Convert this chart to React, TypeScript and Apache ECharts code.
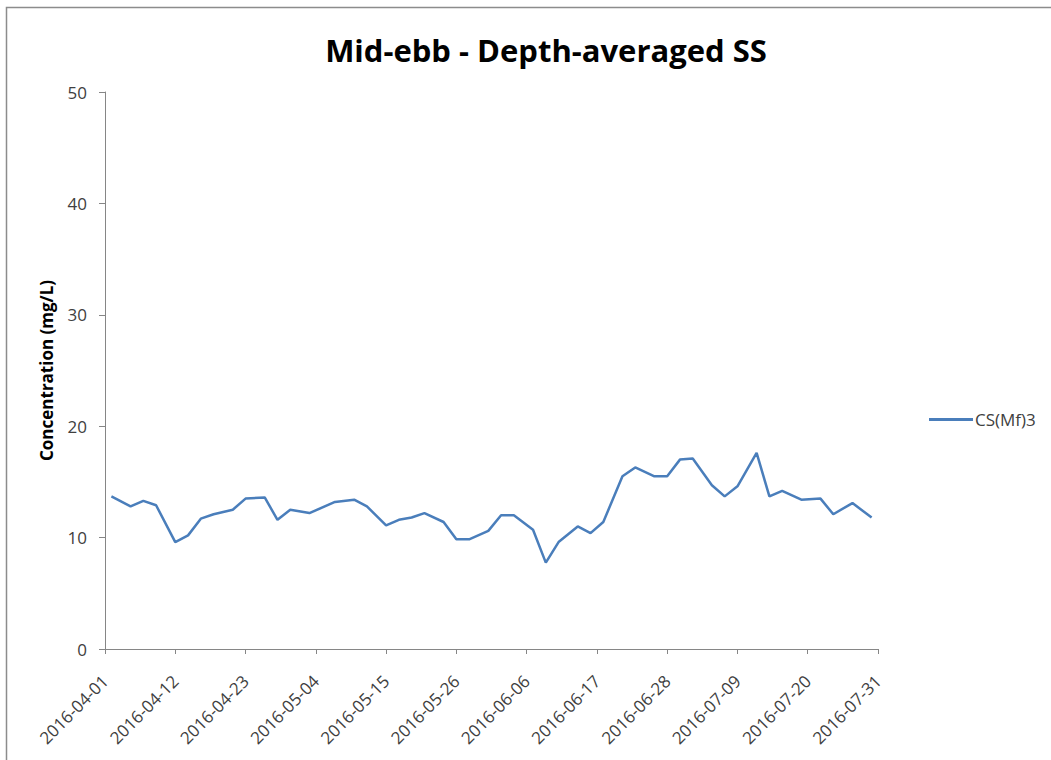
import React, { useEffect, useRef } from "react";
import * as echarts from "echarts";

const title = "Mid-ebb - Depth-averaged SS";
const seriesName = "CS(Mf)3";
const yAxisName = "Concentration (mg/L)";
const startDate = "2016-04-01";
const endDate = "2016-07-31";
const tickDays = 11;

const dates = [
  "2016-04-02", "2016-04-05", "2016-04-07", "2016-04-09", "2016-04-12", "2016-04-14",
  "2016-04-16", "2016-04-18", "2016-04-21", "2016-04-23", "2016-04-26", "2016-04-28",
  "2016-04-30", "2016-05-03", "2016-05-07", "2016-05-10", "2016-05-12", "2016-05-15",
  "2016-05-17", "2016-05-19", "2016-05-21", "2016-05-24", "2016-05-26", "2016-05-28",
  "2016-05-31", "2016-06-02", "2016-06-04", "2016-06-07", "2016-06-09", "2016-06-11",
  "2016-06-14", "2016-06-16", "2016-06-18", "2016-06-21", "2016-06-23", "2016-06-26",
  "2016-06-28", "2016-06-30", "2016-07-02", "2016-07-05", "2016-07-07", "2016-07-09",
  "2016-07-12", "2016-07-14", "2016-07-16", "2016-07-19", "2016-07-22", "2016-07-24",
  "2016-07-27", "2016-07-30",
];
const values = [
  13.7, 12.8, 13.3, 12.9, 9.6, 10.2,
  11.7, 12.1, 12.5, 13.5, 13.6, 11.6,
  12.5, 12.2, 13.2, 13.4, 12.8, 11.1,
  11.6, 11.8, 12.2, 11.4, 9.85, 9.85,
  10.6, 12.0, 12.0, 10.7, 7.75, 9.6,
  11.0, 10.4, 11.4, 15.5, 16.3, 15.5,
  15.5, 17.0, 17.1, 14.7, 13.7, 14.6,
  17.6, 13.7, 14.2, 13.4, 13.5, 12.1,
  13.1, 11.8,
];

const DAY = 86400000;
const t0 = Date.parse(startDate + "T00:00:00Z");
const dayOf = (d: string) => Math.round((Date.parse(d + "T00:00:00Z") - t0) / DAY);
const labelOf = (day: number) => new Date(t0 + day * DAY).toISOString().slice(0, 10);

export default function App() {
  const ref = useRef<HTMLDivElement>(null);
  useEffect(() => {
    if (!ref.current) return;
    const chart = echarts.init(ref.current, undefined, { renderer: "svg" });
    const axisColor = "#868686";
    const textColor = "#404040";
    chart.setOption({
      animation: false,
      backgroundColor: "#ffffff",
      title: {
        text: title,
        left: 541,
        top: 29,
        textAlign: "center",
        textStyle: {
          fontFamily: "Open Sans",
          fontWeight: "bold",
          fontSize: 31,
          color: "#000000",
        },
      },
      graphic: [
        {
          type: "rect",
          shape: { x: 6.5, y: 7.5, width: 1100, height: 800 },
          style: { fill: "none", stroke: "#8c8c8c", lineWidth: 1.5 },
          silent: true,
        },
      ],
      legend: {
        data: [seriesName],
        left: 924,
        top: 406,
        icon: "rect",
        itemWidth: 44,
        itemHeight: 3,
        itemGap: 4,
        textStyle: { fontFamily: "Open Sans", fontSize: 17, color: textColor, padding: [0, 0, 0, -3] },
      },
      grid: { left: 105, right: 1051 - 878, top: 92, bottom: 760 - 649, containLabel: false },
      xAxis: {
        type: "value",
        min: 0,
        max: dayOf(endDate),
        interval: tickDays,
        splitLine: { show: false },
        axisLine: { show: true, lineStyle: { color: axisColor, width: 1 } },
        axisTick: { show: true, length: 5, lineStyle: { color: axisColor } },
        axisLabel: {
          rotate: 45,
          formatter: (v: number) => labelOf(v),
          fontFamily: "Open Sans",
          fontSize: 17,
          color: textColor,
          margin: 29,
          padding: [22, 0, 0, 0],
          showMaxLabel: true,
        },
      },
      yAxis: {
        type: "value",
        min: 0,
        max: 50,
        interval: 10,
        name: yAxisName,
        nameLocation: "middle",
        nameGap: 50,
        nameTextStyle: { fontFamily: "Open Sans", fontWeight: "bold", fontSize: 17, color: "#000000" },
        splitLine: { show: false },
        axisLine: { show: true, lineStyle: { color: axisColor, width: 1 } },
        axisTick: { show: true, length: 6, lineStyle: { color: axisColor } },
        axisLabel: { fontFamily: "Open Sans", fontSize: 17, color: textColor, margin: 18 },
      },
      series: [
        {
          name: seriesName,
          type: "line",
          data: dates.map((d, i) => [dayOf(d), values[i]]),
          showSymbol: false,
          symbol: "none",
          lineStyle: { color: "#4a7ebb", width: 2.5 },
          itemStyle: { color: "#4a7ebb" },
        },
      ],
    });
    return () => chart.dispose();
  }, []);
  return (
    <div
      ref={ref}
      style={{ position: "absolute", left: 0, top: 0, width: 1051, height: 760 }}
    />
  );
}
